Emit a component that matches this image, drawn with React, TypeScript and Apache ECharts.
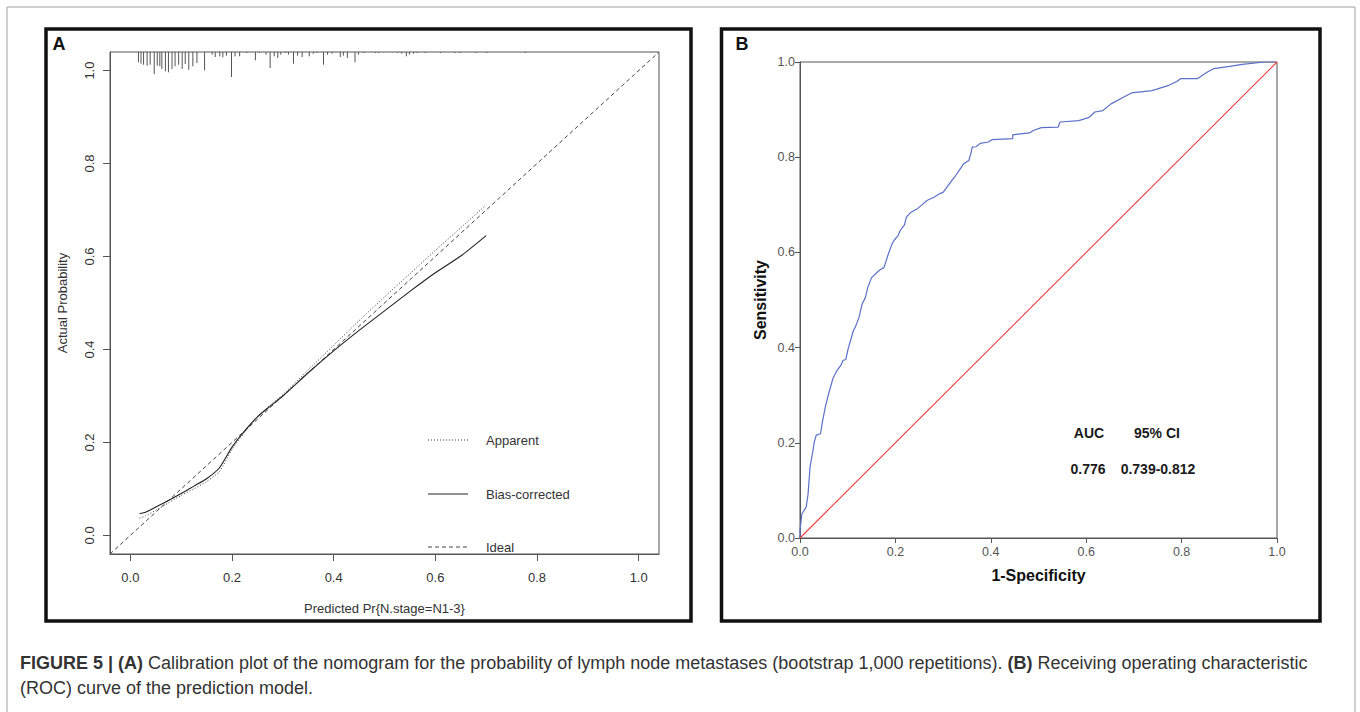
import React, { useEffect, useRef } from "react";
import * as echarts from "echarts";

// ---------- Panel A: calibration plot ----------
const calX = [0.018, 0.03, 0.05, 0.075, 0.1, 0.125, 0.15, 0.175, 0.2, 0.225, 0.25, 0.275, 0.3, 0.35, 0.4, 0.45, 0.5, 0.55, 0.6, 0.65, 0.7];
const apparentY = [0.037, 0.042, 0.054, 0.07, 0.086, 0.1, 0.116, 0.137, 0.185, 0.222, 0.255, 0.28, 0.303, 0.356, 0.409, 0.462, 0.513, 0.563, 0.613, 0.662, 0.711];
const biasCorrectedY = [0.047, 0.05, 0.061, 0.075, 0.09, 0.106, 0.122, 0.145, 0.19, 0.225, 0.255, 0.278, 0.3, 0.35, 0.397, 0.441, 0.483, 0.525, 0.565, 0.601, 0.645];
const idealX = [-0.04, 1.04];
const calTicks = [0, 0.2, 0.4, 0.6, 0.8, 1.0];
const legendNames = ["Apparent", "Bias-corrected", "Ideal"];

// rug of predicted probabilities (x) and their relative frequency
const rugX = [0.016, 0.021, 0.026, 0.033, 0.039, 0.047, 0.053, 0.058, 0.062, 0.069, 0.075, 0.082, 0.088, 0.095, 0.102, 0.108, 0.115, 0.123, 0.131, 0.146, 0.161, 0.167, 0.176, 0.182, 0.189, 0.199, 0.206, 0.215, 0.229, 0.246, 0.254, 0.267, 0.275, 0.283, 0.29, 0.296, 0.305, 0.311, 0.321, 0.329, 0.338, 0.352, 0.36, 0.367, 0.38, 0.388, 0.397, 0.413, 0.419, 0.427, 0.442, 0.449, 0.459, 0.482, 0.488, 0.526, 0.534, 0.543, 0.549, 0.557, 0.564, 0.58, 0.61, 0.639, 0.648, 0.68, 0.701, 0.777];
const rugFreq = [10.3, 11.7, 12.7, 13.7, 12.7, 22, 13.7, 14.3, 17, 19.3, 20.3, 17, 14.3, 12.7, 17, 12, 17.7, 14.3, 11, 18.3, 2.7, 5, 4.3, 5.3, 3.7, 25, 4.3, 4.3, 1, 8.3, 1, 2.7, 16, 4.3, 6, 2.7, 1, 2.7, 11.7, 3.7, 5, 4.3, 1.7, 1, 12.7, 2.7, 1.7, 5, 3.7, 6, 10.3, 2.7, 1, 1, 1, 1, 1.7, 4.3, 2.7, 1.7, 1, 1, 1, 1, 1, 1, 1, 1];

// ---------- Panel B: ROC curve ----------
const rocFpr = [0, 0, 0.004, 0.013, 0.017, 0.021, 0.026, 0.03, 0.034, 0.043, 0.047, 0.053, 0.06, 0.069, 0.077, 0.086, 0.09, 0.096, 0.101, 0.112, 0.116, 0.124, 0.13, 0.137, 0.142, 0.15, 0.167, 0.176, 0.185, 0.193, 0.197, 0.206, 0.21, 0.219, 0.223, 0.232, 0.245, 0.258, 0.266, 0.283, 0.292, 0.3, 0.318, 0.326, 0.343, 0.354, 0.359, 0.361, 0.369, 0.378, 0.395, 0.403, 0.446, 0.446, 0.481, 0.489, 0.506, 0.541, 0.545, 0.584, 0.605, 0.618, 0.635, 0.652, 0.678, 0.695, 0.738, 0.773, 0.79, 0.798, 0.833, 0.854, 0.867, 0.901, 0.927, 0.974, 1];
const rocTpr = [0, 0.016, 0.051, 0.065, 0.093, 0.149, 0.177, 0.202, 0.216, 0.219, 0.244, 0.275, 0.303, 0.335, 0.351, 0.363, 0.373, 0.375, 0.398, 0.436, 0.443, 0.464, 0.491, 0.505, 0.526, 0.547, 0.563, 0.568, 0.596, 0.618, 0.625, 0.636, 0.646, 0.658, 0.674, 0.684, 0.691, 0.702, 0.709, 0.717, 0.723, 0.726, 0.751, 0.761, 0.786, 0.793, 0.811, 0.821, 0.822, 0.829, 0.832, 0.837, 0.839, 0.847, 0.851, 0.856, 0.862, 0.863, 0.874, 0.877, 0.883, 0.895, 0.898, 0.912, 0.926, 0.935, 0.94, 0.951, 0.959, 0.965, 0.965, 0.979, 0.986, 0.991, 0.995, 1, 1];
const diagX = [0, 1];
const aucHeader = ["AUC", "95% CI"];
const aucValues = ["0.776", "0.739-0.812"];

const captionLine1Bold1 = "FIGURE 5 | (A)";
const captionLine1Text1 = " Calibration plot of the nomogram for the probability of lymph node metastases (bootstrap 1,000 repetitions). ";
const captionLine1Bold2 = "(B)";
const captionLine1Text2 = " Receiving operating characteristic";
const captionLine2 = "(ROC) curve of the prediction model.";

const SANS = "'Liberation Sans', Arial, Helvetica, sans-serif";

function buildOption() {
  const fmt = (v: number) => v.toFixed(1);
  const gA = { left: 110, top: 52, width: 549, height: 502 };
  const gB = { left: 800, top: 62, width: 477, height: 476 };
  const rugUnit = 1.08 / 502;
  const aFont = 13;

  return {
    animation: false,
    backgroundColor: "#ffffff",
    grid: [
      { ...gA, show: true, borderColor: "#555", borderWidth: 1, containLabel: false },
      { ...gB, show: true, borderColor: "#555", borderWidth: 1, containLabel: false },
    ],
    xAxis: [
      {
        type: "value", gridIndex: 0, min: -0.04, max: 1.04,
        axisLine: { show: true, onZero: false, lineStyle: { color: "#555", width: 1 } },
        axisTick: { show: true, customValues: calTicks, length: 7, lineStyle: { color: "#555" } },
        axisLabel: { customValues: calTicks, formatter: fmt, margin: 17, fontSize: aFont, fontFamily: SANS, color: "#333" },
        splitLine: { show: false },
        name: "Predicted Pr{N.stage=N1-3}", nameLocation: "middle", nameGap: 48,
        nameTextStyle: { fontSize: aFont, fontFamily: SANS, color: "#333" },
      },
      {
        type: "value", gridIndex: 1, min: 0, max: 1, interval: 0.2,
        axisLine: { show: true, onZero: false, lineStyle: { color: "#555", width: 1 } },
        axisTick: { show: true, length: 5, lineStyle: { color: "#555" } },
        axisLabel: { formatter: fmt, margin: 7, fontSize: 12.5, fontFamily: SANS, color: "#555" },
        splitLine: { show: false },
        name: "1-Specificity", nameLocation: "middle", nameGap: 29,
        nameTextStyle: { fontSize: 16, fontWeight: "bold", fontFamily: SANS, color: "#111" },
      },
    ],
    yAxis: [
      {
        type: "value", gridIndex: 0, min: -0.04, max: 1.04,
        axisLine: { show: true, onZero: false, lineStyle: { color: "#555", width: 1 } },
        axisTick: { show: true, customValues: calTicks, length: 7, lineStyle: { color: "#555" } },
        axisLabel: { customValues: calTicks, formatter: fmt, margin: 14, rotate: 90, fontSize: aFont, fontFamily: SANS, color: "#333" },
        splitLine: { show: false },
        name: "Actual Probability", nameLocation: "middle", nameGap: 41,
        nameTextStyle: { fontSize: aFont, fontFamily: SANS, color: "#333" },
      },
      {
        type: "value", gridIndex: 1, min: 0, max: 1, interval: 0.2,
        axisLine: { show: true, onZero: false, lineStyle: { color: "#555", width: 1 } },
        axisTick: { show: true, length: 5, lineStyle: { color: "#555" } },
        axisLabel: { formatter: fmt, margin: 5, fontSize: 12.5, fontFamily: SANS, color: "#555" },
        splitLine: { show: false },
        name: "Sensitivity", nameLocation: "middle", nameGap: 32,
        nameTextStyle: { fontSize: 16, fontWeight: "bold", fontFamily: SANS, color: "#111" },
      },
    ],
    series: [
      {
        type: "custom", name: "rug", xAxisIndex: 0, yAxisIndex: 0,
        data: rugX.map((x, i) => [x, rugFreq[i]]),
        renderItem: (params: any, api: any) => {
          const x = api.value(0);
          const f = api.value(1);
          const p1 = api.coord([x, 1.04]);
          const p2 = api.coord([x, 1.04 - f * rugUnit]);
          return {
            type: "line",
            shape: { x1: p1[0], y1: p1[1], x2: p2[0], y2: p2[1] },
            style: { stroke: "#555", lineWidth: 1 },
          };
        },
        silent: true,
      },
      {
        type: "line", name: legendNames[2], xAxisIndex: 0, yAxisIndex: 0,
        data: idealX.map((v) => [v, v]), symbol: "none",
        lineStyle: { color: "#444", width: 1, type: [4, 3] },
      },
      {
        type: "line", name: legendNames[0], xAxisIndex: 0, yAxisIndex: 0,
        data: calX.map((x, i) => [x, apparentY[i]]), symbol: "none", smooth: 0.2,
        lineStyle: { color: "#333", width: 1, type: [1, 2] },
      },
      {
        type: "line", name: legendNames[1], xAxisIndex: 0, yAxisIndex: 0,
        data: calX.map((x, i) => [x, biasCorrectedY[i]]), symbol: "none", smooth: 0.2,
        lineStyle: { color: "#222", width: 1.1 },
      },
      {
        type: "line", name: "ROC", xAxisIndex: 1, yAxisIndex: 1,
        data: rocFpr.map((x, i) => [x, rocTpr[i]]), symbol: "none",
        lineStyle: { color: "#5b70c8", width: 1.2 },
      },
      {
        type: "line", name: "Reference", xAxisIndex: 1, yAxisIndex: 1,
        data: diagX.map((v) => [v, v]), symbol: "none",
        lineStyle: { color: "#f03c3c", width: 1.1 },
      },
    ],
    graphic: [
      { type: "rect", shape: { x: 7, y: 7, width: 1348, height: 730 }, style: { fill: "none", stroke: "#a0a0a0", lineWidth: 1 }, silent: true },
      { type: "rect", shape: { x: 46, y: 29, width: 645, height: 592 }, style: { fill: "none", stroke: "#111", lineWidth: 3.5 }, silent: true },
      { type: "rect", shape: { x: 721.5, y: 29, width: 598.5, height: 592 }, style: { fill: "none", stroke: "#111", lineWidth: 3.5 }, silent: true },
      { type: "text", x: 59, y: 44, style: { text: "A", font: `bold 18px ${SANS}`, fill: "#111", align: "center", verticalAlign: "middle" } },
      { type: "text", x: 742, y: 44, style: { text: "B", font: `bold 18px ${SANS}`, fill: "#111", align: "center", verticalAlign: "middle" } },
      // legend of panel A
      { type: "line", shape: { x1: 428, y1: 440, x2: 468, y2: 440 }, style: { stroke: "#333", lineWidth: 1, lineDash: [1, 2] } },
      { type: "line", shape: { x1: 428, y1: 494, x2: 468, y2: 494 }, style: { stroke: "#222", lineWidth: 1.1 } },
      { type: "line", shape: { x1: 428, y1: 547, x2: 468, y2: 547 }, style: { stroke: "#444", lineWidth: 1, lineDash: [4, 3] } },
      { type: "text", x: 486, y: 440, style: { text: legendNames[0], font: `${aFont}px ${SANS}`, fill: "#333", align: "left", verticalAlign: "middle" } },
      { type: "text", x: 486, y: 494, style: { text: legendNames[1], font: `${aFont}px ${SANS}`, fill: "#333", align: "left", verticalAlign: "middle" } },
      { type: "text", x: 486, y: 547, style: { text: legendNames[2], font: `${aFont}px ${SANS}`, fill: "#333", align: "left", verticalAlign: "middle" } },
      // AUC annotation
      { type: "text", x: 1089, y: 433, style: { text: aucHeader[0], font: `bold 14px ${SANS}`, fill: "#1a1a1a", align: "center", verticalAlign: "middle" } },
      { type: "text", x: 1157, y: 433, style: { text: aucHeader[1], font: `bold 14px ${SANS}`, fill: "#1a1a1a", align: "center", verticalAlign: "middle" } },
      { type: "text", x: 1088, y: 469, style: { text: aucValues[0], font: `bold 14px ${SANS}`, fill: "#1a1a1a", align: "center", verticalAlign: "middle" } },
      { type: "text", x: 1158, y: 469, style: { text: aucValues[1], font: `bold 14px ${SANS}`, fill: "#1a1a1a", align: "center", verticalAlign: "middle" } },
      // caption
      {
        type: "text", x: 20, y: 663,
        style: {
          text: `{b|${captionLine1Bold1}}{r|${captionLine1Text1}}{b|${captionLine1Bold2}}{r|${captionLine1Text2}}`,
          rich: {
            b: { font: `bold 18px ${SANS}`, fill: "#333" },
            r: { font: `18px ${SANS}`, fill: "#333" },
          },
          font: `18px ${SANS}`, fill: "#333", align: "left", verticalAlign: "middle",
        },
      },
      { type: "text", x: 20, y: 688, style: { text: captionLine2, font: `18px ${SANS}`, fill: "#333", align: "left", verticalAlign: "middle" } },
    ],
  };
}

export default function App() {
  const ref = useRef<HTMLDivElement>(null);
  useEffect(() => {
    if (!ref.current) return;
    const chart = echarts.init(ref.current, null, { renderer: "svg" });
    chart.setOption(buildOption() as any);
    return () => chart.dispose();
  }, []);
  return <div ref={ref} style={{ position: "absolute", left: 0, top: 0, width: 1360, height: 712, background: "#fff" }} />;
}
